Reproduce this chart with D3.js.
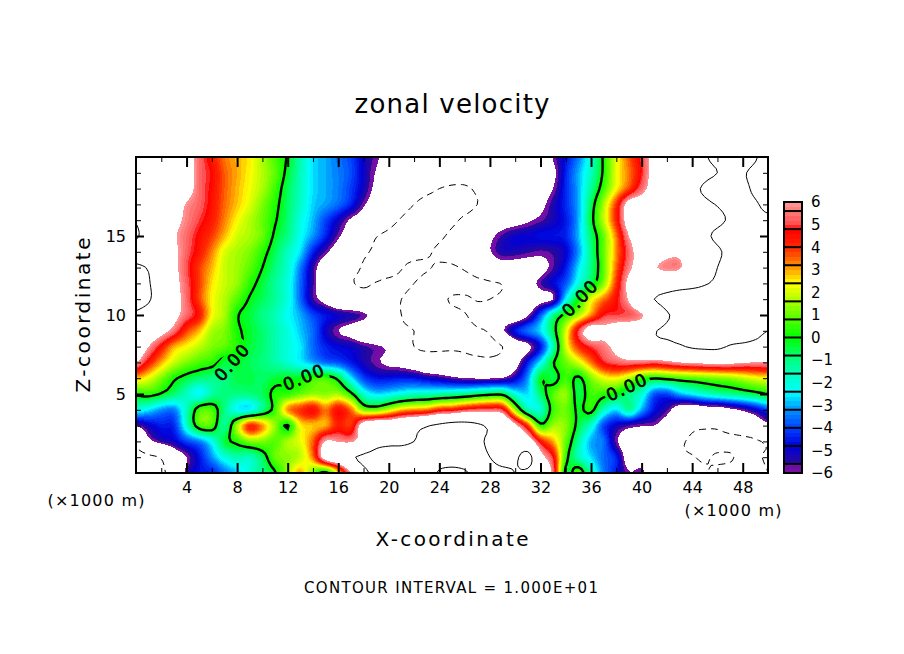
<!DOCTYPE html>
<html><head><meta charset="utf-8">
<script src="https://cdn.jsdelivr.net/npm/d3@7"></script>
<style>html,body{margin:0;background:#fff}svg{display:block}text{font-family:"DejaVu Sans",sans-serif;fill:#000}</style>
</head><body><svg id="c" width="904" height="654"></svg>
<script>
// zonal velocity: one row per 1 km of height, one value per 1 km of x (0..50)
const z20=[8,8,8,8,6.8,5.4,4.4,3.4,2.9,2.5,1.6,0.7,-0.1,-1.4,-2.6,-3,-3.5,-4,-5,-5.8,-6.6,-7,-7.5,-8,-8,-8,-8,-8,-8,-8,-8,-8,-7.2,-5.9,-4.6,-3.4,-1.9,0.2,2.2,3.6,5,6.6,7.5,8,9,9.8,10.6,11,11,10.2,9];
const z19=[8,8,8,8,7,5.4,4.7,3.6,3,2.4,1.7,0.9,-0.3,-1.5,-2.6,-3,-3.4,-3.9,-5,-6.1,-7,-7.5,-8,-8,-8,-8,-8,-8,-8,-8,-8,-8,-7.5,-6.4,-4.4,-3,-1.6,0.2,2.2,3.4,4.8,6.8,7.5,8,8.5,9.4,10,10.6,10.2,9.5,9];
const z18=[8,8,8,8,6.8,5.4,4.6,3.6,2.9,2.3,1.6,0.6,-0.6,-1.6,-2.6,-3,-3.4,-4.1,-5.1,-6.4,-7.5,-8,-8.5,-9.2,-10,-10.5,-10.5,-9.5,-8.5,-8,-7.8,-7.6,-7,-6,-4.3,-3,-1.2,0.6,2.4,3.8,5.4,6.8,7.5,8.3,9.4,10.3,11,11,10.5,9.6,8.8];
const z17=[8,8,8,7,5.9,5.3,4.5,3.5,2.8,2.1,1.2,0.3,-0.7,-1.7,-2.7,-3.1,-3.6,-4.4,-5.8,-7,-8,-9,-10,-11,-11.2,-11.2,-11,-10,-9,-8.2,-7.8,-7.4,-6.5,-5.3,-4.3,-3,-0.6,1.6,4,6.7,7,7.5,8,8.5,9,9.6,10.1,10.6,10.6,10.2,9.5];
const z16=[9.8,8.5,8,6.6,5.7,5,4.3,3.3,2.4,1.7,1,0.1,-0.8,-2,-2.9,-4,-5,-6.2,-7,-8,-9.2,-10.2,-11,-11.4,-11,-10.5,-9.5,-8.5,-7.5,-7,-6.7,-6.2,-5.7,-5.2,-4.5,-3,-0.4,1.8,4.2,6.8,7.2,7.6,8,8.4,8.8,9.2,9.6,10.2,10.4,10.4,10.3];
const z15=[10.2,9,7.5,6.2,5.4,4.6,3.9,2.9,2,1.6,1,-0.2,-1,-2.2,-3.2,-4.4,-5.8,-7,-8.5,-9.9,-10.5,-11,-11,-11,-10.4,-9.5,-8.5,-7.6,-6.4,-5.5,-5,-4.9,-4.7,-4.6,-4.4,-2.9,-0.8,1,3.4,6,7,7.4,7.8,8.2,8.8,9.6,10.4,11,11,10.8,10.2];
const z14=[9.2,8.5,7.5,6.4,5.3,4.4,3.3,2.1,1.6,1.2,0.4,-0.6,-1.6,-2.6,-4.4,-5.7,-7,-8.5,-9.6,-10.4,-11,-11,-10.8,-10.3,-9.6,-9,-8.2,-7.5,-6.1,-5.3,-5.3,-5.5,-5.7,-5.5,-4.9,-3.2,-1,1,3.2,5.4,6.8,7.2,6.6,6.6,8.2,8.8,9.7,10.5,11,11,10];
const z13=[10.3,9.8,8,6.5,5.1,3.9,2.9,1.9,1.5,0.9,0,-0.9,-1.8,-3.4,-5.4,-7.2,-8.2,-9.3,-10.2,-11,-11,-10.1,-9.5,-9.8,-10.3,-10.3,-9.7,-8.6,-7.5,-7,-7,-6.9,-6.6,-5.6,-4.5,-2.6,-1,0.9,3.5,5.7,6.5,6.1,5.7,5.8,7.6,9,10,10.8,11,11,10.5];
const z12=[11,10.2,8.2,6.6,5.3,3.9,2.6,1.9,1.4,0.4,-0.4,-1.2,-2,-3.6,-5.5,-7.2,-8.4,-9.8,-10.2,-9.9,-9.5,-9.6,-10,-10.8,-11,-11,-11,-10.6,-10.3,-9.9,-9,-7,-5.6,-4.8,-3.8,-2,-0.5,1.3,4,6.4,7.2,7.6,8,8.6,9.2,9.8,10.4,11,11,11,11];
const z11=[11,10.3,8.2,6.7,5.4,3.8,2.4,1.7,0.8,-0.1,-0.6,-1.2,-2,-3.6,-5.5,-6.6,-8,-8.5,-9,-9.2,-9.6,-10,-10.6,-11,-10.5,-9.8,-9.7,-10.1,-10,-9.4,-8,-7.5,-6.6,-6,-2.4,0,2.2,3.4,4.6,6.2,9,10,11,11.5,11.5,11.5,11.5,11.5,11.5,11.2,11];
const z10=[9.6,8.7,7.6,6.5,5.4,4.4,2.4,1.6,0.1,-0.4,-1,-1.5,-2.3,-3,-4,-4.6,-5,-5.3,-5.7,-7,-9,-10,-10.7,-11,-11,-10.6,-10.1,-9.5,-9,-8,-7.5,-6.2,-3.8,-1.2,0.4,1.6,3.2,4.8,5,5.1,5.8,7.5,9.7,10.6,11,11,11,11,11,11,10.8];
const z09=[8.5,7.5,6.6,5.5,3.9,2.9,1.6,1.2,0.2,-0.3,-0.8,-1.4,-2,-2.8,-3.6,-5,-6,-6.6,-7.5,-8,-9,-9.5,-10,-10.5,-10.5,-10.6,-10.5,-10.2,-9.6,-6.3,-4.5,-3.5,-2.6,-0.5,2,5,7,6.4,7,7.5,8,9.8,10.4,10.8,11,11,11,11,11,10.5,10];
const z08=[7.5,6,4.5,3,2.4,1.8,1.2,0.9,0.3,-0.4,-0.8,-1.4,-2,-2.5,-3.6,-4.4,-4.8,-5,-5.5,-5.8,-6.3,-7.5,-10,-10.6,-10.6,-10.4,-10.5,-11,-11,-10,-7.5,-6.4,-4.6,-1.5,2,4,5,5.6,6.5,8,8.5,9,9.2,9.7,10.3,10.5,10.5,9.8,9.5,9.3,9];
const z07=[6,4.4,3,1.9,1.2,0.7,0.4,-0.4,-0.3,-0.6,-0.9,-1.3,-1.8,-2.4,-3,-3.6,-3.9,-4.5,-5.2,-5.8,-6.3,-6.6,-7.3,-8,-8,-8.3,-8.8,-9,-9.2,-8.5,-6.8,-4.5,-2.4,-0.1,1,2,3.4,4.8,5.3,5.5,5.5,5.3,5.6,6,6.2,6.4,6.5,6.4,6.1,6,6];
const z06=[2.9,2.2,1.2,0.2,-0.4,-0.8,-1,-0.9,-0.5,-0.5,-0.7,-0.4,-0.2,-0.1,0.5,0.6,-0.3,-2.4,-4,-4.6,-4.6,-4.5,-4.6,-5,-5.3,-5.7,-6,-6.1,-6.1,-5.9,-5,-3.2,-0.2,-0.5,0.6,-0.2,1.2,2.2,2.4,1.7,0.5,0.1,0.3,0.6,0.8,1,1.2,1.4,1.8,2.2,2.4];
const z05=[0.2,0.4,-0.1,-0.8,-1.6,-2.4,-1.3,-0.9,-1,-0.9,-0.6,0.3,0.4,1,1.4,1.3,1.5,0.3,-1.8,-2.6,-2.4,-2,-1.7,-1.6,-1.4,-1.2,-1,-0.6,-0.3,-0.3,-2,-2.6,-0.8,0.8,1.4,-0.5,0.6,0.4,0,-1,-1.8,-3.8,-4,-3,-2.4,-1.8,-1.4,-1.1,-0.8,-0.4,0];
const z04=[-2,-2.5,-3.2,-3.4,-1.6,0.6,0.7,-1,-2.3,-2.4,-1,0.5,3.2,4,4.6,3.4,4.6,3.5,1.2,1,1.8,2.8,3.2,3.4,4.2,4.4,5,5.3,5.4,5,1.5,-1.4,-1.8,0.5,1,-0.2,0.3,-1.6,-2.6,-1.2,-3,-4.6,-5.5,-7,-7.5,-7,-7,-6.4,-5.8,-5,-4];
const z03=[-5.9,-5,-4.5,-4.3,-1.8,0.6,0.7,-1.2,1.6,4.2,3.2,1.4,-0.1,2.4,2.8,3,4.3,4,7,8,8,8.5,9,9.8,10.5,11,11,10.5,9.5,8.5,6.4,4,0.4,1.5,1.3,-0.4,-1.8,-4,-5,-5.6,-5.9,-6,-7,-8,-9.4,-9.6,-9.5,-8.5,-8,-7.5,-6.4];
const z02=[-9,-6.5,-5.5,-5,-4,-3.4,-2.2,-0.4,0.3,1.2,1.2,0.8,1.6,2.2,3.6,6.1,5.9,5.8,7,9,9.5,9.6,10,10.8,11.5,11.5,11.5,10.6,9.5,8.8,8,7.2,4.5,3,1,-1.2,-3,-3.5,-5.8,-7,-7.5,-8,-8.8,-9.6,-10.4,-10.8,-11,-11,-10.8,-10.3,-9.7];
const z01=[-11,-10.5,-9.8,-7.5,-6,-4.6,-3.2,-2,-1.4,-1.6,-0.6,1,1.3,1.8,3.4,7,8,9.6,10.5,11,11,11,11,11,11,11,11,10.7,10,9,9.5,11,6.8,4.8,0.5,-1.5,-2.6,-3.6,-4.4,-7,-7,-8,-9,-9.7,-9.9,-10.2,-9.7,-9.7,-10.8,-10.3,-9.8];
const z00=[-11,-10.6,-10.3,-9,-5.6,-4.6,-4.4,-3.5,-2.8,-1.8,-1,-0.1,1.5,3,1,-0.3,2.5,6,9.3,10.5,11,11,11,10.8,9.8,9.5,9.8,10.5,10.8,10.6,10,9.5,8,5.5,-0.3,0.8,-1.5,-3.4,-4.5,-5.9,-5.7,-7,-8,-9,-9.5,-9.8,-10.5,-11,-11,-10.6,-10];
const zonal=[z20,z19,z18,z17,z16,z15,z14,z13,z12,z11,z10,z09,z08,z07,z06,z05,z04,z03,z02,z01,z00];

// colour ramp
const rampValues=[-6,-5.61,-5.59,-4.8,-4,-3.2,-2.4,-1.6,-0.8,0,0.8,1.6,2.4,3.2,4,4.8,5,5.6,6];
const rampColors=["#7a10a8","#6a0da0","#2a0a98","#0000d8","#0040ff","#0090ff","#00ffff","#00ffc0","#00ff70","#00ff00","#50ff00","#a8ff00","#ffff00","#ff8c00","#ff2800","#ff0000","#ff4a4a","#ff7a7a","#ff9a9a"];
const xMajor=[4,8,12,16,20,24,28,32,36,40,44,48];
const xMinor=[2,6,10,14,18,22,26,30,34,38,42,46];
const zMajor=[5,10,15];
const zMinor=[1,2,3,4,6,7,8,9,11,12,13,14,16,17,18,19];
const barLabels=[-6,-5,-4,-3,-2,-1,0,1,2,3,4,5,6];
const barEdges=[-5.6,-4.8,-4,-3.2,-2.4,-1.6,-0.8,0,0.8,1.6,2.4,3.2,4,4.8,5.6];
const labelSpots=[[232,362,-48],[304,377,-22],[580,298,-46],[627,387,-25]];

const svg=d3.select("#c");
const x=d3.scaleLinear([0,50],[136,768]);
const z=d3.scaleLinear([0,20],[473,157]);
const color=d3.scaleLinear(rampValues,rampColors).clamp(true);

// refine the grid for drawing with Catmull-Rom so that contours are smooth
const K=4,nx=z20.length,nz=zonal.length;
const cr=(a,b,c,d,t)=>0.5*(2*b+(c-a)*t+(2*a-5*b+4*c-d)*t*t+(3*b-a-3*c+d)*t*t*t);
const at=(i,j)=>zonal[Math.max(0,Math.min(nz-1,j))][Math.max(0,Math.min(nx-1,i))];
const W=(nx-1)*K+1,H=(nz-1)*K+1,fine=new Float64Array(W*H);
for(let j=0;j<H;j++)for(let i=0;i<W;i++){
  const i0=Math.floor(i/K),j0=Math.floor(j/K),tx=i/K-i0,ty=j/K-j0,col=[];
  for(let m=-1;m<=2;m++)col.push(cr(at(i0-1,j0+m),at(i0,j0+m),at(i0+1,j0+m),at(i0+2,j0+m),tx));
  fine[j*W+i]=cr(col[0],col[1],col[2],col[3],ty);
}
const path=d3.geoPath(d3.geoTransform({point(a,b){this.stream.point(x((a-0.5)/K),z(20-(b-0.5)/K));}}));
const cont=d3.contours().size([W,H]);

const defs=svg.append("defs");
defs.append("clipPath").attr("id","plot").append("rect").attr("x",136).attr("y",157).attr("width",632).attr("height",316);
const mask=defs.append("mask").attr("id","gaps").attr("maskUnits","userSpaceOnUse").attr("x",0).attr("y",0).attr("width",904).attr("height",654);
mask.append("rect").attr("width",904).attr("height",654).attr("fill","#fff");
labelSpots.forEach(s=>mask.append("rect").attr("x",-24).attr("y",-10).attr("width",48).attr("height",20).attr("fill","#000").attr("transform",`translate(${s[0]},${s[1]}) rotate(${s[2]})`));

const plot=svg.append("g").attr("clip-path","url(#plot)");
const levels=d3.range(0,60).map(k=>-6+k*0.2);
plot.selectAll("path.f").data(levels).join("path").attr("class","f")
  .attr("d",t=>path(cont.contour(fine,t))).attr("fill",t=>color(t+0.1)).attr("shape-rendering","crispEdges");
plot.append("path").attr("d",path(cont.contour(fine,6))).attr("fill","#fff").attr("shape-rendering","crispEdges");
const lines=plot.append("g").attr("fill","none").attr("stroke","#000").attr("mask","url(#gaps)");
lines.append("path").attr("d",path(cont.contour(fine,0))).attr("stroke-width",2.4);
lines.append("path").attr("d",path(cont.contour(fine,10))).attr("stroke-width",1);
lines.append("path").attr("d",path(cont.contour(fine,-10))).attr("stroke-width",1).attr("stroke-dasharray","7,5");
labelSpots.forEach(s=>svg.append("text").text("0.00").attr("transform",`translate(${s[0]},${s[1]}) rotate(${s[2]})`)
  .attr("text-anchor","middle").attr("dy","0.36em").attr("font-size",17).attr("letter-spacing",1.5).attr("stroke","#000").attr("stroke-width",0.7));

// frame and ticks
const axes=svg.append("g");
const style=g=>{g.select(".domain").remove();g.selectAll("line").attr("stroke","#000");g.selectAll("text").attr("font-size",16);};
const bm=(vals,len,w,lab)=>g=>{g.call(d3.axisBottom(x).tickValues(vals).tickSize(-len).tickPadding(9).tickFormat(lab?d3.format("d"):""));style(g);g.selectAll("line").attr("stroke-width",w);};
axes.append("g").attr("transform","translate(0,473)").call(bm(xMajor,10,2,true));
axes.append("g").attr("transform","translate(0,473)").call(bm(xMinor,5,1,false));
const tp=(vals,len,w)=>g=>{g.call(d3.axisTop(x).tickValues(vals).tickSize(-len).tickFormat(""));style(g);g.selectAll("line").attr("stroke-width",w);};
axes.append("g").attr("transform","translate(0,157)").call(tp(xMajor,10,2));
axes.append("g").attr("transform","translate(0,157)").call(tp(xMinor,5,1));
const lf=(vals,len,w,lab)=>g=>{g.call(d3.axisLeft(z).tickValues(vals).tickSize(-len).tickPadding(10).tickFormat(lab?d3.format("d"):""));style(g);g.selectAll("line").attr("stroke-width",w);};
axes.append("g").attr("transform","translate(136,0)").call(lf(zMajor,8,2,true));
axes.append("g").attr("transform","translate(136,0)").call(lf(zMinor,5,1,false));
const rt=(vals,len,w)=>g=>{g.call(d3.axisRight(z).tickValues(vals).tickSize(-len).tickFormat(""));style(g);g.selectAll("line").attr("stroke-width",w);};
axes.append("g").attr("transform","translate(768,0)").call(rt(zMajor,8,2));
axes.append("g").attr("transform","translate(768,0)").call(rt(zMinor,5,1));
svg.append("rect").attr("x",136).attr("y",157).attr("width",632).attr("height",316).attr("fill","none").attr("stroke","#000").attr("stroke-width",2);

// colour bar
const bar=d3.scaleLinear([-6,6],[473,202]);
svg.append("g").selectAll("rect").data(levels).join("rect")
  .attr("x",784).attr("width",18).attr("y",t=>bar(t+0.2)).attr("height",t=>bar(t)-bar(t+0.2)+0.5)
  .attr("fill",t=>color(t+0.1)).attr("shape-rendering","crispEdges");
svg.append("g").selectAll("line").data(barEdges).join("line")
  .attr("x1",784).attr("x2",802).attr("y1",d=>bar(d)).attr("y2",d=>bar(d)).attr("stroke","#000").attr("stroke-width",2);
svg.append("rect").attr("x",784).attr("y",202).attr("width",18).attr("height",271).attr("fill","none").attr("stroke","#000").attr("stroke-width",2);
svg.append("g").selectAll("text").data(barLabels).join("text")
  .attr("x",811).attr("y",d=>bar(d)).attr("dy","0.36em").attr("font-size",15)
  .text(d=>d<0?"\u2212"+(-d):d);

// titles
const put=(s,px,py,fs,len,rot)=>{const t=svg.append("text").text(s).attr("text-anchor","middle").attr("font-size",fs)
  .attr("textLength",len).attr("lengthAdjust","spacing");
  t.attr("transform",`translate(${px},${py})`+(rot?` rotate(${rot})`:""));return t;};
put("zonal velocity",452,113,26,195);
put("X-coordinate",452,546,20,153);
put("Z-coordinate",90,315,20,155,-90);
put("CONTOUR INTERVAL = 1.000E+01",451,593,15,294);
put("(\u00d71000 m)",96,506,16,97);
put("(\u00d71000 m)",733,516,16,97);
</script></body></html>
